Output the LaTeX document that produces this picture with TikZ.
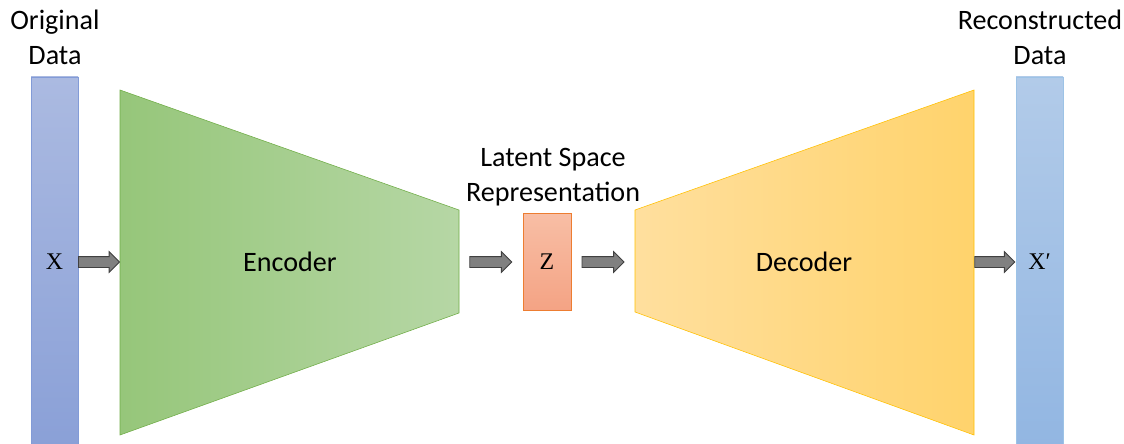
\documentclass[tikz,border=0pt]{standalone}
\usepackage{fontspec}
\setsansfont{Carlito}
\newfontfamily\varfont{Liberation Serif}
\usepackage{tikz}
\usetikzlibrary{calc, shapes.arrows}
\definecolor{bartop}{RGB}{171,186,225}
\definecolor{barbot}{RGB}{138,160,215}
\definecolor{barline}{RGB}{130,155,215}
\definecolor{outtop}{RGB}{178,203,233}
\definecolor{outbot}{RGB}{146,182,226}
\definecolor{outline}{RGB}{157,195,230}
\definecolor{encleft}{RGB}{150,198,122}
\definecolor{encright}{RGB}{182,215,165}
\definecolor{encline}{RGB}{112,173,71}
\definecolor{ztop}{RGB}{248,190,165}
\definecolor{zbot}{RGB}{244,163,132}
\definecolor{zline}{RGB}{237,125,49}
\definecolor{decleft}{RGB}{255,223,158}
\definecolor{decright}{RGB}{255,211,108}
\definecolor{decline}{RGB}{255,192,0}

\begin{document}
\begin{tikzpicture}[
    bar/.style={draw, minimum width=1.175cm, minimum height=9.25cm, inner sep=0pt, font=\varfont\fontsize{17}{20}\selectfont},
    blockarrow/.style={single arrow, draw=black!75, fill=black!50, minimum width=0.5cm, single arrow head extend=0.125cm, inner xsep=0pt, inner ysep=0.125cm, line width=0.6pt, xshift=-0.07cm},
    every node/.style={font=\sffamily\fontsize{20}{25}\selectfont},
]
    \useasboundingbox (0,0) rectangle (28.1,11.075);

    % Input data
    \node[bar, draw=barline, top color=bartop, bottom color=barbot] (xin) at (1.3625, 4.525) {X};
    \node[align=center] (inlabel) at (1.375, 10.15) {Original\\Data};

    % Encoder
    \coordinate (enc-l) at (3.0, 4.525);
    \coordinate (enc-r) at (11.475, 4.525);
    \shade[left color=encleft, right color=encright] (3.0,8.825) -- (11.475,5.825) -- (11.475,3.25) -- (3.0,0.2) -- cycle;
    \draw[encline] (3.0,8.825) -- (11.475,5.825) -- (11.475,3.25) -- (3.0,0.2) -- cycle;
    \node (enc) at (7.25, 4.525) {Encoder};

    % Latent code
    \node[draw=zline, top color=ztop, bottom color=zbot, minimum width=1.2cm, minimum height=2.425cm, inner sep=0pt, font=\varfont\fontsize{17}{20}\selectfont] (z) at (13.675, 4.525) {Z};
    \node[align=center] (zlabel) at (13.825, 6.65) {Latent Space\\Representation};

    % Decoder
    \coordinate (dec-l) at (15.875, 4.525);
    \coordinate (dec-r) at (24.35, 4.525);
    \shade[left color=decleft, right color=decright] (15.875,5.825) -- (24.35,8.825) -- (24.35,0.2) -- (15.875,3.275) -- cycle;
    \draw[decline] (15.875,5.825) -- (24.35,8.825) -- (24.35,0.2) -- (15.875,3.275) -- cycle;
    \node (dec) at (20.1, 4.525) {Decoder};

    % Output data
    \node[bar, draw=outline, top color=outtop, bottom color=outbot] (xout) at (25.9875, 4.525) {X′};
    \node[align=center] (outlabel) at (26.0, 10.15) {Reconstructed\\Data};

    % Arrows
    \node[blockarrow, minimum height=1.025cm] (a1) at ($(xin.east)!0.5!(enc-l)$) {};
    \node[blockarrow, minimum height=1.05cm] (a2) at ($(enc-r)!0.5!(z.west)$) {};
    \node[blockarrow, minimum height=1.05cm] (a3) at ($(z.east)!0.5!(dec-l)$) {};
    \node[blockarrow, minimum height=1.0cm] (a4) at ($(dec-r)!0.5!(xout.west)$) {};
\end{tikzpicture}
\end{document}
